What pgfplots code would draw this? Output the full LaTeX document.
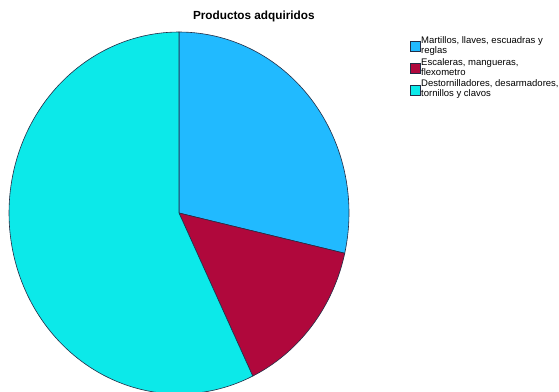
\documentclass[border=0pt]{standalone}
\usepackage{pgfplots}
\pgfplotsset{compat=1.18}
\usepackage{fontspec}
\setmainfont{Liberation Sans}
\definecolor{cBlue}{RGB}{33,186,255}
\definecolor{cRed}{RGB}{176,8,60}
\definecolor{cCyan}{RGB}{12,233,233}
\definecolor{edge}{RGB}{35,45,70}
% data: number of responses per product group
\def\vA{2}% Martillos, llaves, escuadras y reglas
\def\vB{1}% Escaleras, mangueras, flexometro
\def\vC{4}% Destornilladores, desarmadores, tornillos y clavos
\pgfmathsetmacro{\tot}{\vA+\vB+\vC}
\pgfmathsetmacro{\aA}{90-360*\vA/\tot}
\pgfmathsetmacro{\aB}{\aA-360*\vB/\tot}
\pgfmathsetmacro{\aC}{\aB-360*\vC/\tot}
\begin{document}
\begin{tikzpicture}[x=1bp,y=1bp]
\useasboundingbox (0,0) rectangle (559,391);
\clip (0,0) rectangle (559,391);
\begin{axis}[
  at={(179bp,178bp)}, anchor=center,
  scale only axis, width=340bp, height=362bp,
  xmin=-1, xmax=1, ymin=-1, ymax=1,
  hide axis, clip=false,
  title={Productos adquiridos},
  title style={font=\bfseries\fontsize{11.8}{12}\selectfont, at={(0.72,1)}, anchor=base, yshift=7bp, inner sep=0pt},
  legend style={at={(1.179,0.99)}, anchor=north west, draw=none, fill=none,
    inner sep=0pt, font=\fontsize{9.55}{10}\selectfont, row sep=2.5bp, column sep=0pt,
    nodes={inner xsep=0.5bp, inner ysep=0.5bp},
    cells={align=left, anchor=west}},
  legend image code/.code={\draw[#1] (0bp,-6bp) rectangle (10bp,4bp);},
]
\addplot[fill=cBlue, draw=edge, line width=0.6bp, domain=\aA:90, samples=60, variable=\t]
  ({cos(t)},{sin(t)}) -- (0,0) -- cycle;
\addlegendentry{Martillos, llaves, escuadras y\\reglas}
\addplot[fill=cRed, draw=edge, line width=0.6bp, domain=\aB:\aA, samples=40, variable=\t]
  ({cos(t)},{sin(t)}) -- (0,0) -- cycle;
\addlegendentry{Escaleras, mangueras,\\flexometro}
\addplot[fill=cCyan, draw=edge, line width=0.6bp, domain=\aC:\aB, samples=120, variable=\t]
  ({cos(t)},{sin(t)}) -- (0,0) -- cycle;
\addlegendentry{Destornilladores, desarmadores,\\tornillos y clavos}
\end{axis}
\end{tikzpicture}
\end{document}
